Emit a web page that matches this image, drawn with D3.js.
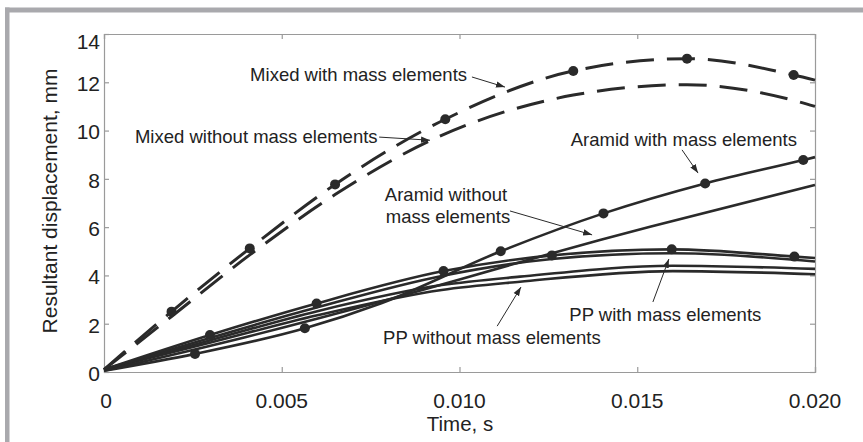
<!DOCTYPE html>
<html>
<head>
<meta charset="utf-8">
<script src="https://cdn.jsdelivr.net/npm/d3@7"></script>
<style>
  body { margin: 0; background: #fff; }
  svg { display: block; font-family: 'Liberation Sans', Arial, sans-serif; }
</style>
</head>
<body>
<div id="wrapper"></div>
<script>
// Data: [time (s), resultant displacement (mm)]
const mixedWith = [[0, 0.1], [0.0019, 2.5], [0.0041, 5.12], [0.0065, 7.77], [0.0096, 10.47],
  [0.0132, 12.47], [0.0164, 12.98], [0.0194, 12.3], [0.02, 12.09]];
const mixedWithMarks = [[0.0019, 2.5], [0.0041, 5.12], [0.0065, 7.77], [0.0096, 10.47],
  [0.0132, 12.47], [0.0164, 12.98], [0.0194, 12.3]];
const mixedWithout = [[0, 0.1], [0.0019, 2.3], [0.0041, 4.85], [0.0065, 7.35], [0.0092, 9.6],
  [0.0132, 11.47], [0.0164, 11.9], [0.0194, 11.25], [0.02, 11.0]];
const aramidWith = [[0, 0.05], [0.00256, 0.75], [0.00565, 1.81], [0.0078, 2.85], [0.01116, 5.0],
  [0.01405, 6.57], [0.01691, 7.81], [0.01967, 8.78], [0.02, 8.9]];
const aramidWithMarks = [[0.00256, 0.75], [0.00565, 1.81], [0.01116, 5.0], [0.01405, 6.57],
  [0.01691, 7.81], [0.01967, 8.78]];
const aramidWithout = [[0, 0.05], [0.004, 1.45], [0.008, 3.0], [0.01142, 4.43], [0.01395, 5.47],
  [0.01536, 6.02], [0.02, 7.75]];
const ppWith = [[0, 0.1], [0.00298, 1.53], [0.00598, 2.84], [0.00955, 4.18], [0.0126, 4.83],
  [0.01597, 5.08], [0.01942, 4.78], [0.02, 4.72]];
const ppWithMarks = [[0.00298, 1.53], [0.00598, 2.84], [0.00955, 4.18], [0.0126, 4.83],
  [0.01597, 5.08], [0.01942, 4.78]];
const ppB = [[0, 0.1], [0.003, 1.42], [0.006, 2.68], [0.0095, 3.98], [0.0126, 4.68], [0.016, 4.92], [0.02, 4.58]];
const ppC = [[0, 0.1], [0.003, 1.32], [0.006, 2.52], [0.0095, 3.6], [0.0117, 3.95], [0.016, 4.4], [0.02, 4.27]];
const ppD = [[0, 0.1], [0.003, 1.22], [0.006, 2.35], [0.0095, 3.4], [0.0117, 3.74], [0.016, 4.18], [0.02, 4.05]];

const xTicks = [0, 0.005, 0.01, 0.015, 0.02];
const xTickLabels = ['0', '0.005', '0.010', '0.015', '0.020'];
const yTicks = [0, 2, 4, 6, 8, 10, 12, 14];

// Annotations: text anchor and arrow [from, to] in data units
const notes = [
  { lines: ['Mixed with mass elements'], at: [0.00411, 12.05], arrow: [[0.01035, 12.22], [0.01128, 11.8]] },
  { lines: ['Mixed without mass elements'], at: [0.00087, 9.5], arrow: [[0.00774, 9.73], [0.00917, 9.6]] },
  { lines: ['Aramid with mass elements'], at: [0.01313, 9.36], arrow: [[0.01626, 9.2], [0.01671, 8.24]] },
  { lines: ['Aramid without', 'mass elements'], at: [0.0079, 7.1], arrow: [[0.01142, 6.67], [0.01373, 5.68]] },
  { lines: ['PP with mass elements'], at: [0.01309, 2.13], arrow: [[0.01544, 2.9], [0.01589, 4.68]] },
  { lines: ['PP without mass elements'], at: [0.00785, 1.16], arrow: [[0.01106, 1.9], [0.01173, 3.52]] },
];

const dims = { width: 863, height: 442, margin: { top: 34, right: 48, bottom: 70, left: 104 } };
dims.boundedWidth = dims.width - dims.margin.left - dims.margin.right;
dims.boundedHeight = dims.height - dims.margin.top - dims.margin.bottom;

const xScale = d3.scaleLinear().domain([0, 0.02]).range([0, dims.boundedWidth]);
const yScale = d3.scaleLinear().domain([0, 14]).range([dims.boundedHeight, 0]);

const svg = d3.select('#wrapper').append('svg')
  .attr('width', dims.width).attr('height', dims.height);

svg.append('rect').attr('width', dims.width).attr('height', dims.height).attr('fill', '#fff');

// gray frame
svg.append('rect').attr('x', 5).attr('y', 7.5).attr('width', dims.width - 5).attr('height', 5).attr('fill', '#a9a9ad');
svg.append('rect').attr('x', 5).attr('y', 7.5).attr('width', 4.5).attr('height', dims.height).attr('fill', '#a9a9ad');

svg.append('defs').append('marker')
  .attr('id', 'head').attr('viewBox', '0 0 10 10').attr('refX', 10).attr('refY', 5)
  .attr('markerWidth', 9).attr('markerHeight', 9).attr('markerUnits', 'userSpaceOnUse')
  .attr('orient', 'auto')
  .append('path').attr('d', 'M0,1.5 L10,5 L0,8.5 Z').attr('fill', '#2a2a2a');

const bounds = svg.append('g')
  .attr('transform', `translate(${dims.margin.left},${dims.margin.top})`);

// axes box with inward ticks on all four sides
const tickLen = 5;
const axisColor = '#9a9a9a';
const xAxis = bounds.append('g').attr('transform', `translate(0,${dims.boundedHeight})`)
  .call(d3.axisBottom(xScale).tickValues(xTicks).tickSize(-tickLen).tickFormat(''));
const xAxisTop = bounds.append('g')
  .call(d3.axisTop(xScale).tickValues(xTicks).tickSize(-tickLen).tickFormat(''));
const yAxis = bounds.append('g')
  .call(d3.axisLeft(yScale).tickValues(yTicks).tickSize(-tickLen).tickFormat(''));
const yAxisRight = bounds.append('g').attr('transform', `translate(${dims.boundedWidth},0)`)
  .call(d3.axisRight(yScale).tickValues(yTicks).tickSize(-tickLen).tickFormat(''));
bounds.selectAll('.domain, .tick line').attr('stroke', axisColor).attr('stroke-width', 1.2);

// tick labels
bounds.append('g').selectAll('text').data(xTicks).join('text')
  .attr('x', (d) => xScale(d) + (d === 0 ? 2 : 0))
  .attr('y', dims.boundedHeight + 36)
  .attr('text-anchor', 'middle')
  .attr('font-size', 21).attr('fill', '#222')
  .text((d, i) => xTickLabels[i]);

bounds.append('g').selectAll('text').data(yTicks).join('text')
  .attr('x', -4)
  .attr('y', (d) => Math.max(yScale(d), 6.5) + 1.5)
  .attr('dy', '0.35em')
  .attr('text-anchor', 'end')
  .attr('font-size', 21).attr('fill', '#222')
  .text((d) => d);

// axis labels
svg.append('text')
  .attr('x', 460).attr('y', 431)
  .attr('text-anchor', 'middle').attr('font-size', 20.5).attr('fill', '#222')
  .text('Time, s');

svg.append('text')
  .attr('transform', 'translate(57,201) rotate(-90)')
  .attr('text-anchor', 'middle').attr('font-size', 21).attr('fill', '#222')
  .text('Resultant displacement, mm');

// curves
const line = d3.line()
  .x((d) => xScale(d[0]))
  .y((d) => yScale(d[1]))
  .curve(d3.curveMonotoneX);

const lineColor = '#2a2a2a';
const solidSeries = [ppD, ppC, ppB, aramidWithout, ppWith, aramidWith];
bounds.append('g').selectAll('path').data(solidSeries).join('path')
  .attr('d', line)
  .attr('fill', 'none')
  .attr('stroke', lineColor)
  .attr('stroke-width', 2.6);

const dashedSeries = [mixedWithout, mixedWith];
bounds.append('g').selectAll('path').data(dashedSeries).join('path')
  .attr('d', line)
  .attr('fill', 'none')
  .attr('stroke', lineColor)
  .attr('stroke-width', 3)
  .attr('stroke-dasharray', '28,13');

const marks = [...mixedWithMarks, ...aramidWithMarks, ...ppWithMarks];
bounds.append('g').selectAll('circle').data(marks).join('circle')
  .attr('cx', (d) => xScale(d[0]))
  .attr('cy', (d) => yScale(d[1]))
  .attr('r', 5)
  .attr('fill', lineColor);

// annotations
const noteG = bounds.append('g');
notes.forEach((n) => {
  const t = noteG.append('text')
    .attr('x', xScale(n.at[0]))
    .attr('y', yScale(n.at[1]))
    .attr('font-size', 18.5).attr('fill', '#222');
  n.lines.forEach((l, i) => {
    t.append('tspan').attr('x', xScale(n.at[0]) + i).attr('dy', i === 0 ? 0 : 22.6).text(l);
  });
  noteG.append('line')
    .attr('x1', xScale(n.arrow[0][0])).attr('y1', yScale(n.arrow[0][1]))
    .attr('x2', xScale(n.arrow[1][0])).attr('y2', yScale(n.arrow[1][1]))
    .attr('stroke', '#2a2a2a').attr('stroke-width', 1)
    .attr('marker-end', 'url(#head)');
});
</script>
</body>
</html>
